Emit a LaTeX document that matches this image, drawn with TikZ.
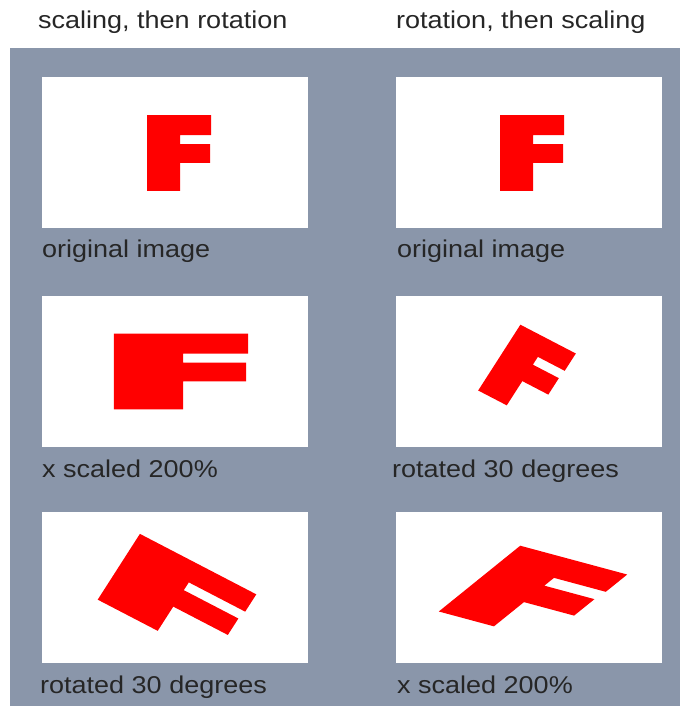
\documentclass[tikz,border=0pt]{standalone}
\usepackage{fontspec}
\setmainfont{Liberation Sans}
\definecolor{panel}{RGB}{138,150,170}
\definecolor{ink}{RGB}{38,38,38}
\definecolor{fred}{RGB}{255,0,0}
\begin{document}
\begin{tikzpicture}[x=1pt,y=-1pt,
  Fshape/.pic={\fill[fred] (-32,42.2) -- (1,42.2) -- (1,11.1) -- (31,11.1) -- (31,-10) -- (1,-10) -- (1,-20) -- (32,-20) -- (32,-42.2) -- (-32,-42.2) -- cycle;},
  lbl/.style={anchor=base west, inner sep=0pt, text=ink, font=\fontsize{27}{30}\selectfont},
  card/.style={fill=white}]
\useasboundingbox (0,0) rectangle (680,706);
\fill[white] (0,0) rectangle (680,706);
\fill[panel] (10,48) rectangle (680,706);
% column headings
\node[lbl] (h1) at (38,29) {\scalebox{1}[0.9]{scaling, then rotation}};
\node[lbl] (h2) at (396,29) {\scalebox{1}[0.9]{rotation, then scaling}};
% cards
\fill[card] (42,77) rectangle (308,228);
\fill[card] (396,77) rectangle (662,228);
\fill[card] (42,296) rectangle (308,447);
\fill[card] (396,296) rectangle (662,447);
\fill[card] (42,512) rectangle (308,663);
\fill[card] (396,512) rectangle (662,663);
% F shapes
\pic[yscale=0.9] at (179,153) {Fshape};
\pic[yscale=0.9] at (532,153) {Fshape};
\pic[yscale=0.9, xscale=2.1] at (181,371.5) {Fshape};
\pic[yscale=0.9, rotate=-30] at (527,372) {Fshape};
\pic[yscale=0.9, rotate=-30, xscale=2.1] at (177,597) {Fshape};
\pic[yscale=0.9, xscale=1.93, rotate=-30] at (533,593) {Fshape};
% labels
\node[lbl] (l1) at (42,257) {\scalebox{1}[0.9]{original image}};
\node[lbl] (r1) at (397,257) {\scalebox{1}[0.9]{original image}};
\node[lbl] (l2) at (42,477) {\scalebox{1}[0.9]{x scaled 200\%}};
\node[lbl] (r2) at (392,477) {\scalebox{1}[0.9]{rotated 30 degrees}};
\node[lbl] (l3) at (40,693) {\scalebox{1}[0.9]{rotated 30 degrees}};
\node[lbl] (r3) at (397,693) {\scalebox{1}[0.9]{x scaled 200\%}};
\end{tikzpicture}
\end{document}
